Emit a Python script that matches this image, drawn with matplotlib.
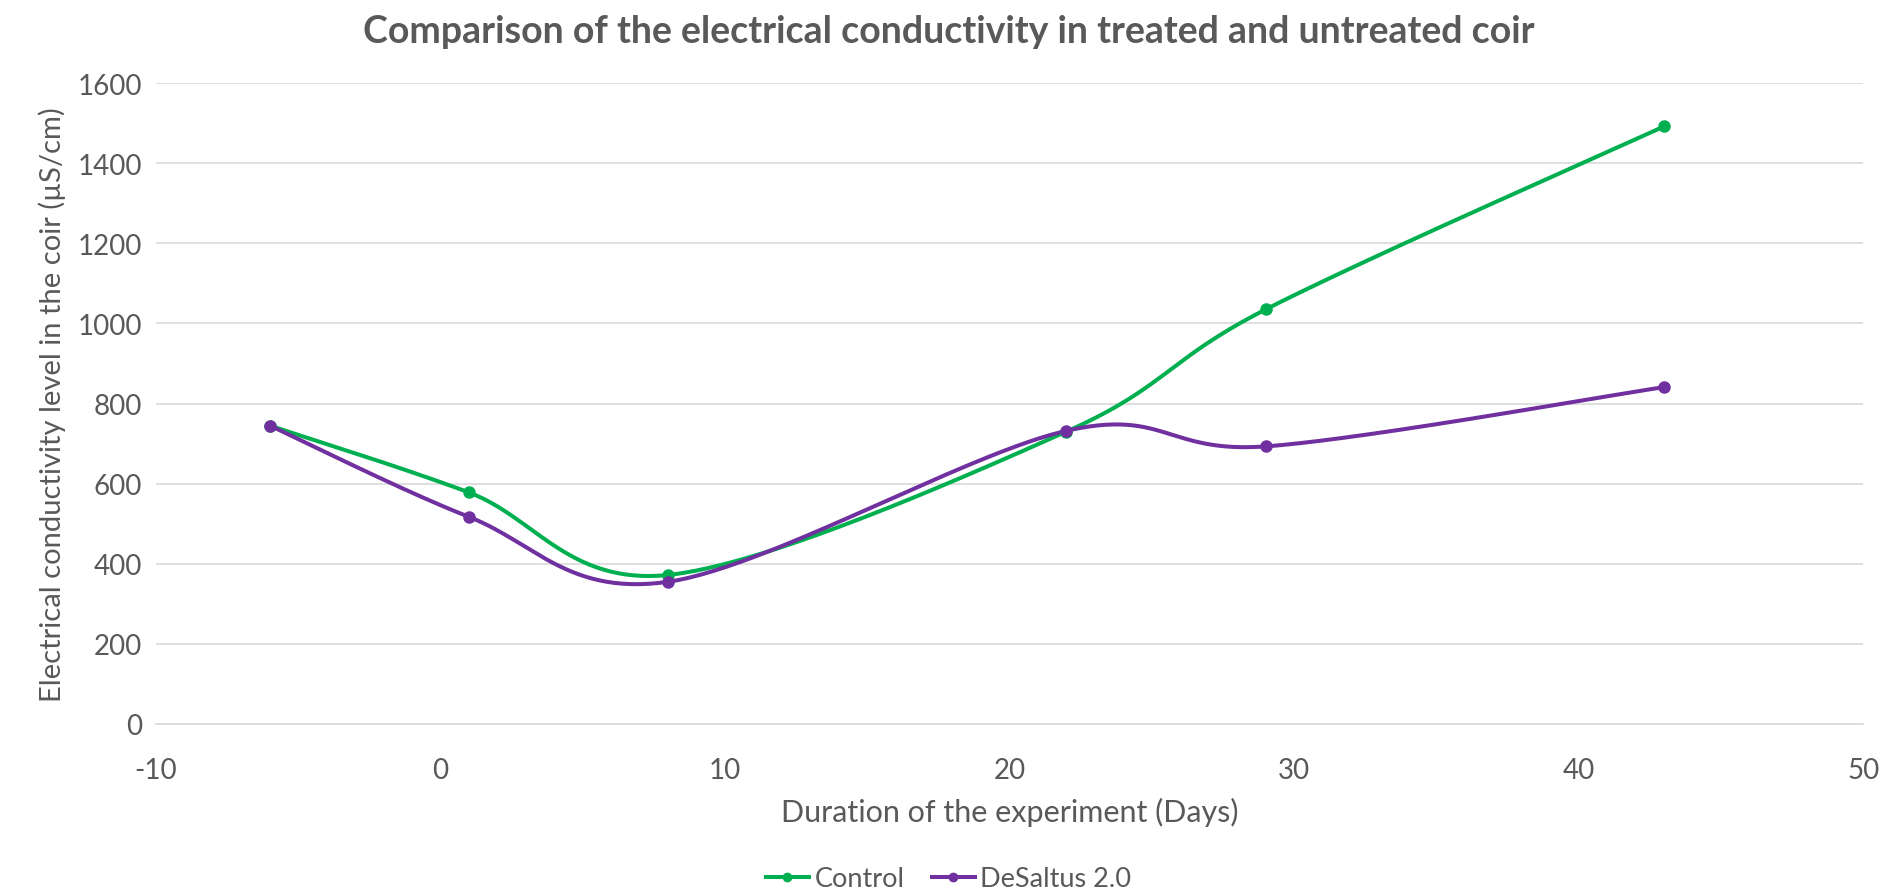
import matplotlib
matplotlib.use("Agg")
import matplotlib.pyplot as plt
import numpy as np

# data
days = [-6, 1, 8, 22, 29, 43]
control = [745, 578, 372, 730, 1035, 1492]
desaltus = [745, 517, 355, 732, 693, 841]

GREEN = "#00B050"
PURPLE = "#7030A0"
TEXT = "#595959"

plt.rcParams['font.family'] = ['Lato', 'DejaVu Sans']
plt.rcParams['axes.unicode_minus'] = False


def smooth(xs, ys, n=60):
    """Excel-like smoothed line: Catmull-Rom bezier through the points"""
    p = np.column_stack([xs, ys]).astype(float)
    out = []
    for i in range(len(p) - 1):
        p0 = p[i - 1] if i > 0 else p[i]
        p1 = p[i]
        p2 = p[i + 1]
        p3 = p[i + 2] if i + 2 < len(p) else p[i + 1]
        c1 = p1 + (p2 - p0) / 6.0
        c2 = p2 - (p3 - p1) / 6.0
        t = np.linspace(0, 1, n)[:, None]
        seg = ((1 - t) ** 3) * p1 + 3 * ((1 - t) ** 2) * t * c1 + 3 * (1 - t) * t ** 2 * c2 + t ** 3 * p2
        out.append(seg)
    pts = np.vstack(out)
    return pts[:, 0], pts[:, 1]


fig = plt.figure(figsize=(18.97, 8.95), dpi=100)
ax = fig.add_axes([0.0822, 0.190, 0.900, 0.716])

for ys, col, name in [(control, GREEN, "Control"), (desaltus, PURPLE, "DeSaltus 2.0")]:
    sx, sy = smooth(days, ys)
    ax.plot(sx, sy, color=col, lw=2.9, solid_capstyle='round', zorder=3)
    ax.plot(days, ys, 'o', color=col, ms=8, zorder=4)
    ax.plot([], [], '-o', color=col, lw=2.9, ms=6, label=name)

ax.set_xlim(-10, 50)
ax.set_ylim(0, 1600)
ax.set_xticks(range(-10, 51, 10))
ax.set_yticks(range(0, 1601, 200))
ax.grid(axis='y', color='#D9D9D9', lw=1.2)
ax.set_axisbelow(True)
for s in ['top', 'right', 'left']:
    ax.spines[s].set_visible(False)
ax.spines['bottom'].set_color('#D9D9D9')
ax.spines['bottom'].set_linewidth(1.2)
ax.tick_params(length=0, labelsize=20, colors=TEXT)
ax.tick_params(axis='x', pad=24)
ax.tick_params(axis='y', pad=10)

ax.set_xlabel("Duration of the experiment (Days)", fontsize=22, color=TEXT, labelpad=10)
ax.set_ylabel("Electrical conductivity level in the coir (µS/cm)", fontsize=21, color=TEXT, labelpad=8)
fig.suptitle("Comparison of the electrical conductivity in treated and untreated coir",
             fontsize=27, fontweight='bold', color=TEXT, y=0.983)

leg = fig.legend(loc='lower center', bbox_to_anchor=(0.5, -0.012), ncol=2, frameon=False,
                 fontsize=19.5, handlelength=1.6, handletextpad=0.2, columnspacing=1.0,
                 borderpad=0.0)
for t in leg.get_texts():
    t.set_color(TEXT)

fig.savefig("out.png", dpi=100)
